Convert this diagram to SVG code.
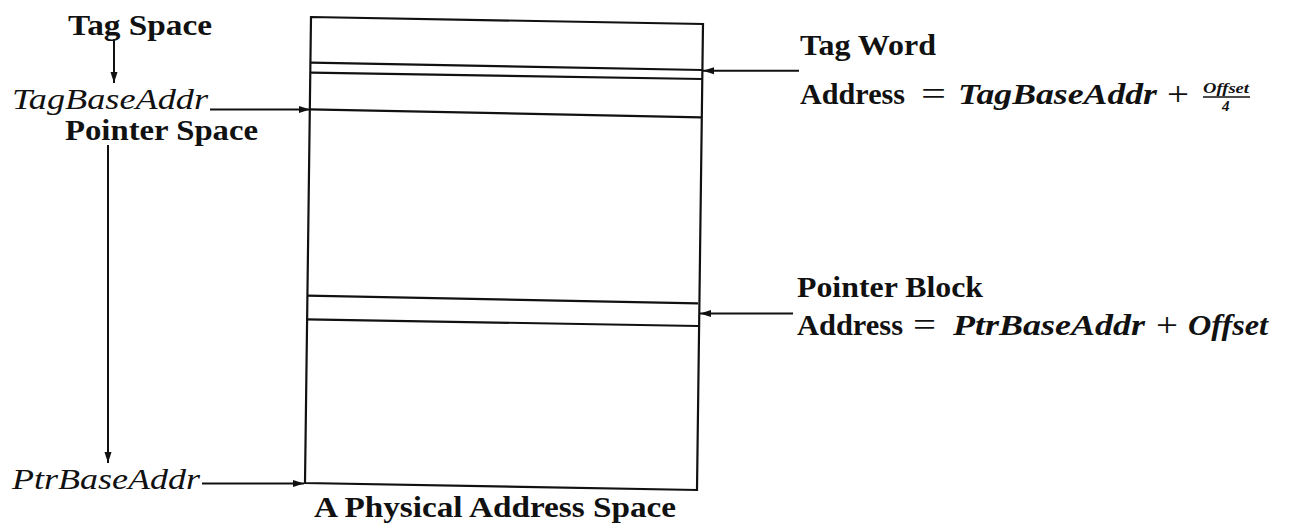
<svg xmlns="http://www.w3.org/2000/svg" width="1301" height="528" viewBox="0 0 1301 528">
  <style>
    text { font-family: 'Liberation Serif', 'Times New Roman', Times, 'DejaVu Serif', 'Noto Serif', serif; fill: #111; }
    .lbl { font-weight: bold; font-size: 29px; }
    .math { font-style: italic; font-size: 29px; }
    .bmath { font-style: italic; font-weight: bold; font-size: 29px; }
    .op { font-size: 34px; }
    .small { font-style: italic; font-weight: bold; font-size: 15px; }
    .edge { stroke: #111; stroke-width: 2; fill: none; }
    .wall { stroke: #111; stroke-width: 2.2; fill: none; stroke-linejoin: miter; }
  </style>
  <defs>
    <marker id="head" markerUnits="userSpaceOnUse" markerWidth="12" markerHeight="8" refX="11" refY="4" orient="auto">
      <path d="M0,0.5 L11,4 L0,7.5 z" fill="#111"/>
    </marker>
  </defs>

  <rect width="1301" height="528" fill="#fff"/>

  <!-- physical address space block with its stripes -->
  <g id="address-space">
    <path class="wall" d="M311,17 L703,24 L697,490 L305,483 Z"/>
    <line class="wall" x1="311" y1="62.7" x2="702" y2="70"/>
    <line class="wall" x1="311" y1="72.7" x2="702" y2="79"/>
    <line class="wall" x1="310" y1="109.3" x2="701" y2="117.3"/>
    <line class="wall" x1="307" y1="295.7" x2="698" y2="303.3"/>
    <line class="wall" x1="306.5" y1="319.3" x2="698" y2="326"/>
    <text class="lbl" x="314" y="517" textLength="362" lengthAdjust="spacingAndGlyphs">A Physical Address Space</text>
  </g>

  <!-- left-hand labels -->
  <g id="tag-space">
    <text class="lbl" x="68" y="35" textLength="144" lengthAdjust="spacingAndGlyphs">Tag Space</text>
  </g>
  <g id="tag-base-addr">
    <text class="math" x="12" y="109" textLength="196" lengthAdjust="spacingAndGlyphs">TagBaseAddr</text>
  </g>
  <g id="pointer-space">
    <text class="lbl" x="65" y="140" textLength="193" lengthAdjust="spacingAndGlyphs">Pointer Space</text>
  </g>
  <g id="ptr-base-addr">
    <text class="math" x="12" y="489" textLength="188" lengthAdjust="spacingAndGlyphs">PtrBaseAddr</text>
  </g>

  <!-- right-hand labels -->
  <g id="tag-word">
    <text class="lbl" x="800" y="55" textLength="136" lengthAdjust="spacingAndGlyphs">Tag Word</text>
    <text class="lbl" x="800" y="104" textLength="105" lengthAdjust="spacingAndGlyphs">Address</text>
    <text class="op" x="921" y="105" textLength="25" lengthAdjust="spacingAndGlyphs">=</text>
    <text class="bmath" x="958" y="104" textLength="199" lengthAdjust="spacingAndGlyphs">TagBaseAddr</text>
    <text class="op" x="1167" y="105" textLength="22" lengthAdjust="spacingAndGlyphs">+</text>
    <text class="small" x="1203" y="93" textLength="46" lengthAdjust="spacingAndGlyphs">Offset</text>
    <line x1="1203" y1="97" x2="1250" y2="97" stroke="#111" stroke-width="1.5"/>
    <text class="small" x="1222" y="111">4</text>
  </g>
  <g id="pointer-block">
    <text class="lbl" x="797" y="297" textLength="186" lengthAdjust="spacingAndGlyphs">Pointer Block</text>
    <text class="lbl" x="797" y="335" textLength="106" lengthAdjust="spacingAndGlyphs">Address</text>
    <text class="op" x="913" y="336" textLength="23" lengthAdjust="spacingAndGlyphs">=</text>
    <text class="bmath" x="953" y="335" textLength="192" lengthAdjust="spacingAndGlyphs">PtrBaseAddr</text>
    <text class="op" x="1156" y="336" textLength="22" lengthAdjust="spacingAndGlyphs">+</text>
    <text class="bmath" x="1188" y="335" textLength="80" lengthAdjust="spacingAndGlyphs">Offset</text>
  </g>

  <!-- connectors -->
  <g id="connectors">
    <line class="edge" x1="114" y1="39" x2="114" y2="83" marker-end="url(#head)"/>
    <line class="edge" x1="108" y1="145" x2="108" y2="463" marker-end="url(#head)"/>
    <line class="edge" x1="210" y1="109.5" x2="310" y2="109.5" marker-end="url(#head)"/>
    <line class="edge" x1="202" y1="483.5" x2="304" y2="483.5" marker-end="url(#head)"/>
    <line class="edge" x1="799" y1="70.7" x2="703" y2="70.7" marker-end="url(#head)"/>
    <line class="edge" x1="793" y1="313.5" x2="700" y2="313.5" marker-end="url(#head)"/>
  </g>
</svg>
